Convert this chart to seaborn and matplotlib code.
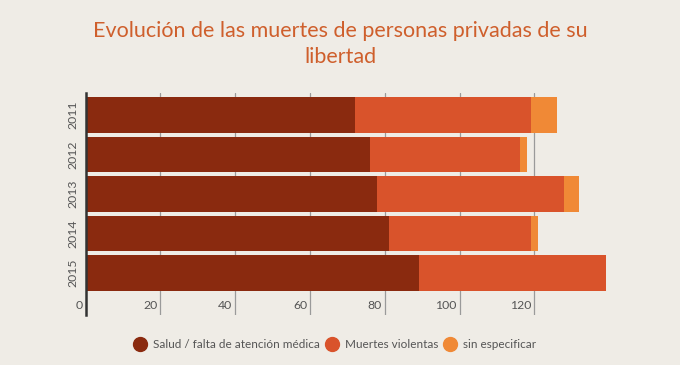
import pandas as pd
import matplotlib.pyplot as plt
import seaborn as sns
from matplotlib.lines import Line2D
from matplotlib.transforms import ScaledTranslation

# -------------------------
# Data
# -------------------------
years = ["2011", "2012", "2013", "2014", "2015"]
salud = [72, 76, 78, 81, 89]
violentas = [47, 40, 50, 38, 50]
sin_especificar = [7, 2, 4, 2, 0]

series_names = ["Salud / falta de atención médica", "Muertes violentas", "sin especificar"]
colors = ["#8a2a0f", "#d9532b", "#f08936"]
bg = "#efece6"

df = pd.DataFrame({
    "year": years,
    series_names[0]: salud,
    series_names[1]: violentas,
    series_names[2]: sin_especificar,
})
# cumulative sums for stacking
df["c1"] = df[series_names[0]]
df["c2"] = df["c1"] + df[series_names[1]]
df["c3"] = df["c2"] + df[series_names[2]]

sns.set_theme(style="white")
plt.rcParams["font.family"] = ["Lato", "DejaVu Sans"]

fig = plt.figure(figsize=(6.8, 3.65), dpi=100, facecolor=bg)
ax = fig.add_axes([0.126, 0.137, 0.77, 0.608])
ax.set_facecolor(bg)

# -------------------------
# Stacked horizontal bars
# -------------------------
for col, c in zip(["c3", "c2", "c1"], colors[::-1]):
    sns.barplot(data=df, x=col, y="year", orient="h", color=c,
                width=0.9, saturation=1, linewidth=0, edgecolor="none",
                ax=ax, zorder=3)

ax.set_xlim(0, 140)
ax.set_ylim(5.06, -0.56)
ax.set_xlabel("")
ax.set_ylabel("")

# grid lines
for v in range(20, 140, 20):
    ax.axvline(v, color="#9a9a9a", lw=0.9, zorder=1)

for s in ["top", "right", "bottom"]:
    ax.spines[s].set_visible(False)
ax.spines["left"].set_color("#333333")
ax.spines["left"].set_linewidth(1.8)
ax.spines["left"].set_zorder(5)

# x tick labels drawn inside the axes, left of each grid line
ax.set_xticks(range(0, 140, 20))
ax.tick_params(axis="x", length=0, pad=-11, labelsize=8.8, labelcolor="#555555")
for lbl in ax.get_xticklabels():
    lbl.set_horizontalalignment("right")
    lbl.set_transform(lbl.get_transform() + ScaledTranslation(-0.03, 0, fig.dpi_scale_trans))

ax.tick_params(axis="y", length=0, pad=5, labelsize=8.8, labelcolor="#555555")
for lbl in ax.get_yticklabels():
    lbl.set_rotation(90)
    lbl.set_verticalalignment("center")

# -------------------------
# Title and legend
# -------------------------
fig.text(0.5, 0.88, "Evolución de las muertes de personas privadas de su\nlibertad",
         ha="center", va="center", fontsize=15.5, color="#cf5f2c",
         fontweight="normal", linespacing=1.4)

handles = [Line2D([], [], marker="o", linestyle="", markersize=10,
                  markerfacecolor=c, markeredgecolor=c) for c in colors]
leg = fig.legend(handles, series_names, loc="center", bbox_to_anchor=(0.492, 0.055),
                 ncol=3, frameon=False, fontsize=8.5, handletextpad=0.5,
                 columnspacing=0.4, handlelength=1.2)
for t in leg.get_texts():
    t.set_color("#555555")

fig.savefig("out.png", dpi=100, facecolor=bg)
